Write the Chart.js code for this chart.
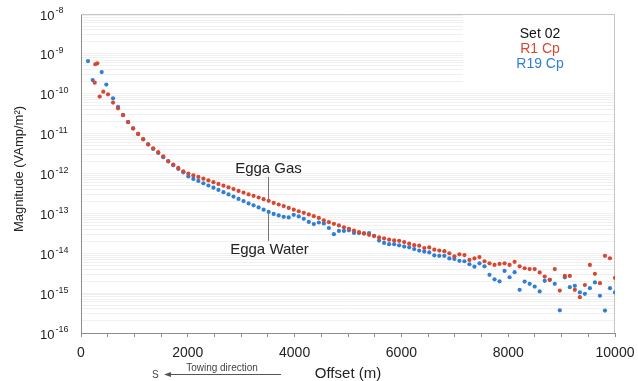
<!DOCTYPE html>
<html>
<head>
<meta charset="utf-8">
<script src="https://cdn.jsdelivr.net/npm/chart.js@4/dist/chart.umd.min.js"></script>
<style>
  body { margin: 0; background: #fff; }
  #wrap { width: 638px; height: 381px; position: relative; }
</style>
</head>
<body>
<div id="wrap"><canvas id="chart"></canvas></div>
<script>
// near-field points (first few, irregular)
const r1NearOffsets = [257, 268, 305, 350, 418, 506];
const r1NearValues = [1.9e-10, 5.5e-10, 5.8e-10, 8.5e-11, 1.13e-10, 9.7e-11];
const r19NearOffsets = [131, 219, 388, 474];
const r19NearValues = [6.6e-10, 2.2e-10, 3.5e-10, 1.7e-10];

// main receiver offsets (m)
const offsets = [
  600, 694, 788, 882, 976, 1070, 1164, 1258, 1352, 1446,
  1540, 1634, 1728, 1822, 1916, 2010, 2104, 2198, 2292, 2386,
  2480, 2574, 2668, 2762, 2856, 2950, 3044, 3138, 3232, 3326,
  3420, 3514, 3608, 3702, 3796, 3890, 3984, 4078, 4172, 4266,
  4360, 4454, 4548, 4642, 4736, 4830, 4924, 5018, 5112, 5206,
  5300, 5394, 5488, 5582, 5676, 5770, 5864, 5958, 6052, 6146,
  6240, 6334, 6428, 6522, 6616, 6710, 6804, 6898, 6992, 7086,
  7180, 7274, 7368, 7462, 7556, 7650, 7744, 7838, 7932, 8026,
  8120, 8214, 8308, 8402, 8496, 8590, 8684, 8778, 8872, 8966,
  9060, 9154, 9248, 9342, 9436, 9530, 9624, 9718, 9812, 9906,
  10000
];

const r1Values = [
  6.0e-11, 4.3e-11, 2.9e-11, 1.94e-11, 1.35e-11, 9.8e-12, 7.3e-12, 5.4e-12, 4.3e-12, 3.42e-12,
  2.69e-12, 2.05e-12, 1.67e-12, 1.38e-12, 1.14e-12, 1.0e-12, 8.95e-13, 8.2e-13, 7.4e-13, 6.7e-13,
  6.05e-13, 5.48e-13, 4.94e-13, 4.49e-13, 4.06e-13, 3.66e-13, 3.32e-13, 2.99e-13, 2.75e-13, 2.5e-13,
  2.27e-13, 2.06e-13, 1.83e-13, 1.67e-13, 1.52e-13, 1.37e-13, 1.24e-13, 1.13e-13, 1.03e-13, 9.4e-14,
  8.5e-14, 7.7e-14, 6.7e-14, 6.0e-14, 5.46e-14, 5.0e-14, 4.46e-14, 4.09e-14, 3.68e-14, 3.38e-14,
  3.15e-14, 2.89e-14, 2.69e-14, 2.5e-14, 2.36e-14, 2.19e-14, 2.1e-14, 2.05e-14, 1.91e-14, 1.74e-14,
  1.59e-14, 1.55e-14, 1.35e-14, 1.4e-14, 1.23e-14, 1.17e-14, 1.13e-14, 1.0e-14, 8.4e-15, 9.4e-15,
  9.0e-15, 6.8e-15, 7.4e-15, 8.0e-15, 6.3e-15, 5.6e-15, 5.1e-15, 5.4e-15, 5.6e-15, 5.1e-15,
  6.1e-15, 4.7e-15, 4.2e-15, 4.0e-15, 4.0e-15, 3.3e-15, 2.6e-15, 2.15e-15, 4.0e-15, 1.16e-15,
  2.7e-15, 2.7e-15, 1.21e-15, 7.9e-16, 1.6e-15, 5.1e-15, 3.05e-15, 1.78e-15, 8.6e-15, 7.5e-15,
  2.4e-15
];

const r19Values = [
  7.7e-11, 4.67e-11, 2.94e-11, 1.96e-11, 1.35e-11, 9.8e-12, 7.2e-12, 5.36e-12, 4.14e-12, 3.28e-12,
  2.56e-12, 2.01e-12, 1.61e-12, 1.3e-12, 1.07e-12, 8.45e-13, 7.3e-13, 6.5e-13, 5.7e-13, 5.0e-13,
  4.4e-13, 3.88e-13, 3.4e-13, 2.99e-13, 2.64e-13, 2.31e-13, 2.03e-13, 1.78e-13, 1.59e-13, 1.41e-13,
  1.24e-13, 1.09e-13, 9.7e-14, 8.9e-14, 8.2e-14, 7.9e-14, 9.2e-14, 8.4e-14, 7.3e-14, 6.1e-14,
  5.4e-14, 5.9e-14, 5.6e-14, 4.3e-14, 3.0e-14, 3.64e-14, 3.64e-14, 3.75e-14, 3.24e-14, 3.2e-14,
  3.15e-14, 3.2e-14, 2.73e-14, 2.08e-14, 1.82e-14, 1.69e-14, 1.69e-14, 1.58e-14, 1.47e-14, 1.41e-14,
  1.27e-14, 1.17e-14, 1.1e-14, 1.05e-14, 8.85e-15, 8.6e-15, 8.6e-15, 7.4e-15, 7.2e-15, 6.45e-15,
  6.3e-15, 5.3e-15, 4.6e-15, 5.6e-15, 4.7e-15, 2.88e-15, 2.22e-15, 1.98e-15, 3.6e-15, 2.5e-15,
  3.36e-15, 1.21e-15, 1.95e-15, 1.71e-15, 1.46e-15, 1.1e-15, 2.03e-15, 2.15e-15, 1.71e-15, 3.7e-16,
  2.49e-15, 1.41e-15, 1.52e-15, 1.05e-15, 9.6e-16, 1.33e-15, 1.85e-15, 8.6e-16, 3.66e-16, 1.33e-15,
  1.04e-15
];

const xTickLabels = [0, 2000, 4000, 6000, 8000, 10000];
const yTickExponents = [-8, -9, -10, -11, -12, -13, -14, -15, -16];

const FONT = '"Liberation Sans", Arial, Helvetica, sans-serif';
const RED = '#d9472f';
const BLUE = '#2f7fd6';

function points(xs, ys) {
  return xs.map((x, i) => ({ x, y: ys[i] }));
}

const overlay = {
  id: 'overlay',
  beforeDatasetsDraw(chart) {
    const { ctx, chartArea: a } = chart;
    ctx.save();
    // white patch behind the legend text
    ctx.fillStyle = '#ffffff';
    ctx.fillRect(463, a.top + 1, a.right - 463 - 1, 68);
    // light frame on top and right
    ctx.strokeStyle = '#c4c4c4';
    ctx.lineWidth = 1;
    ctx.beginPath();
    ctx.moveTo(a.left, a.top + 0.5);
    ctx.lineTo(a.right - 0.5, a.top + 0.5);
    ctx.lineTo(a.right - 0.5, a.bottom);
    ctx.stroke();
    ctx.restore();
  },
  afterDraw(chart) {
    const { ctx, chartArea: a } = chart;
    const xs = chart.scales.x;
    const ys = chart.scales.y;
    ctx.save();
    ctx.fillStyle = '#222';

    // y tick labels with superscript exponents
    yTickExponents.forEach((e) => {
      const y = ys.getPixelForValue(Math.pow(10, e));
      ctx.font = '13px ' + FONT;
      ctx.textAlign = 'left';
      ctx.textBaseline = 'middle';
      ctx.fillText('10', 40, y + 2);
      const w = ctx.measureText('10').width;
      ctx.font = '9px ' + FONT;
      ctx.fillText(String(e), 40 + w + 1, y - 3);
    });

    // y axis title
    ctx.save();
    ctx.translate(19, 169);
    ctx.rotate(-Math.PI / 2);
    ctx.font = '13px ' + FONT;
    ctx.textAlign = 'center';
    ctx.textBaseline = 'middle';
    ctx.fillText('Magnitude (VAmp/m\u00b2)', 0, 0);
    ctx.restore();

    // x axis title
    ctx.font = '15px ' + FONT;
    ctx.textAlign = 'center';
    ctx.textBaseline = 'middle';
    ctx.fillText('Offset (m)', (a.left + a.right) / 2, 374);

    // towing direction arrow
    ctx.font = '10px ' + FONT;
    ctx.fillStyle = '#444';
    ctx.textAlign = 'center';
    ctx.textBaseline = 'alphabetic';
    ctx.fillText('Towing direction', 222, 371);
    ctx.textAlign = 'left';
    ctx.textBaseline = 'middle';
    ctx.fillText('S', 152, 375);
    ctx.strokeStyle = '#555';
    ctx.lineWidth = 1;
    ctx.beginPath();
    ctx.moveTo(166, 374.5);
    ctx.lineTo(281, 374.5);
    ctx.stroke();
    ctx.fillStyle = '#555';
    ctx.beginPath();
    ctx.moveTo(164, 374.5);
    ctx.lineTo(171, 372);
    ctx.lineTo(171, 377);
    ctx.closePath();
    ctx.fill();

    // legend block
    ctx.font = '14px ' + FONT;
    ctx.textAlign = 'center';
    ctx.textBaseline = 'middle';
    ctx.fillStyle = '#111';
    ctx.fillText('Set 02', 540, 34);
    ctx.fillStyle = RED;
    ctx.fillText('R1 Cp', 540, 49);
    ctx.fillStyle = BLUE;
    ctx.fillText('R19 Cp', 540, 64);

    // Egga annotations
    const ax = Math.round(xs.getPixelForValue(3500)) + 0.5;
    ctx.fillStyle = '#222';
    ctx.font = '15px ' + FONT;
    ctx.fillText('Egga Gas', ax, ys.getPixelForValue(1.3e-12));
    ctx.fillText('Egga Water', ax + 1, ys.getPixelForValue(1.2e-14));
    ctx.strokeStyle = '#777';
    ctx.beginPath();
    ctx.moveTo(ax, ys.getPixelForValue(8.2e-13));
    ctx.lineTo(ax, ys.getPixelForValue(2.3e-13));
    ctx.moveTo(ax, ys.getPixelForValue(9.7e-14));
    ctx.lineTo(ax, ys.getPixelForValue(2.05e-14));
    ctx.stroke();

    ctx.restore();
  }
};

new Chart(document.getElementById('chart'), {
  type: 'scatter',
  data: {
    datasets: [
      {
        label: 'R1 Cp',
        data: points(r1NearOffsets, r1NearValues).concat(points(offsets, r1Values)),
        backgroundColor: RED,
        borderWidth: 0,
        pointRadius: 2.1
      },
      {
        label: 'R19 Cp',
        data: points(r19NearOffsets, r19NearValues).concat(points(offsets, r19Values)),
        backgroundColor: BLUE,
        borderWidth: 0,
        pointRadius: 2.1
      }
    ]
  },
  options: {
    responsive: true,
    maintainAspectRatio: false,
    animation: false,
    layout: { padding: { top: 14, right: 23, left: 0, bottom: 0 } },
    plugins: {
      legend: { display: false },
      tooltip: { enabled: false }
    },
    scales: {
      x: {
        type: 'linear',
        min: 0,
        max: 10000,
        afterBuildTicks(scale) {
          const ticks = [];
          for (let v = 0; v <= 10000; v += 500) ticks.push({ value: v });
          scale.ticks = ticks;
        },
        afterFit(scale) {
          scale.height = 48;
          scale.paddingLeft = 0;
          scale.paddingRight = 0;
        },
        ticks: {
          autoSkip: false,
          maxRotation: 0,
          padding: 8,
          color: '#222',
          font: { size: 14, family: FONT },
          callback: (v) => (xTickLabels.includes(v) ? String(v) : '')
        },
        grid: { drawOnChartArea: false, drawTicks: true, tickLength: 4, color: '#8c8c8c' },
        border: { color: '#8c8c8c' }
      },
      y: {
        type: 'logarithmic',
        min: 1e-16,
        max: 1e-8,
        afterBuildTicks(scale) {
          const ticks = [];
          for (let e = -16; e < -8; e++) {
            for (let m = 1; m < 10; m++) ticks.push({ value: m * Math.pow(10, e) });
          }
          ticks.push({ value: 1e-8 });
          scale.ticks = ticks;
        },
        afterFit(scale) {
          scale.width = 81;
          scale.paddingTop = 0;
          scale.paddingBottom = 0;
        },
        ticks: { display: false },
        grid: { drawTicks: false, color: '#f0f0f0' },
        border: { color: '#8c8c8c' }
      }
    }
  },
  plugins: [overlay]
});
</script>
</body>
</html>
